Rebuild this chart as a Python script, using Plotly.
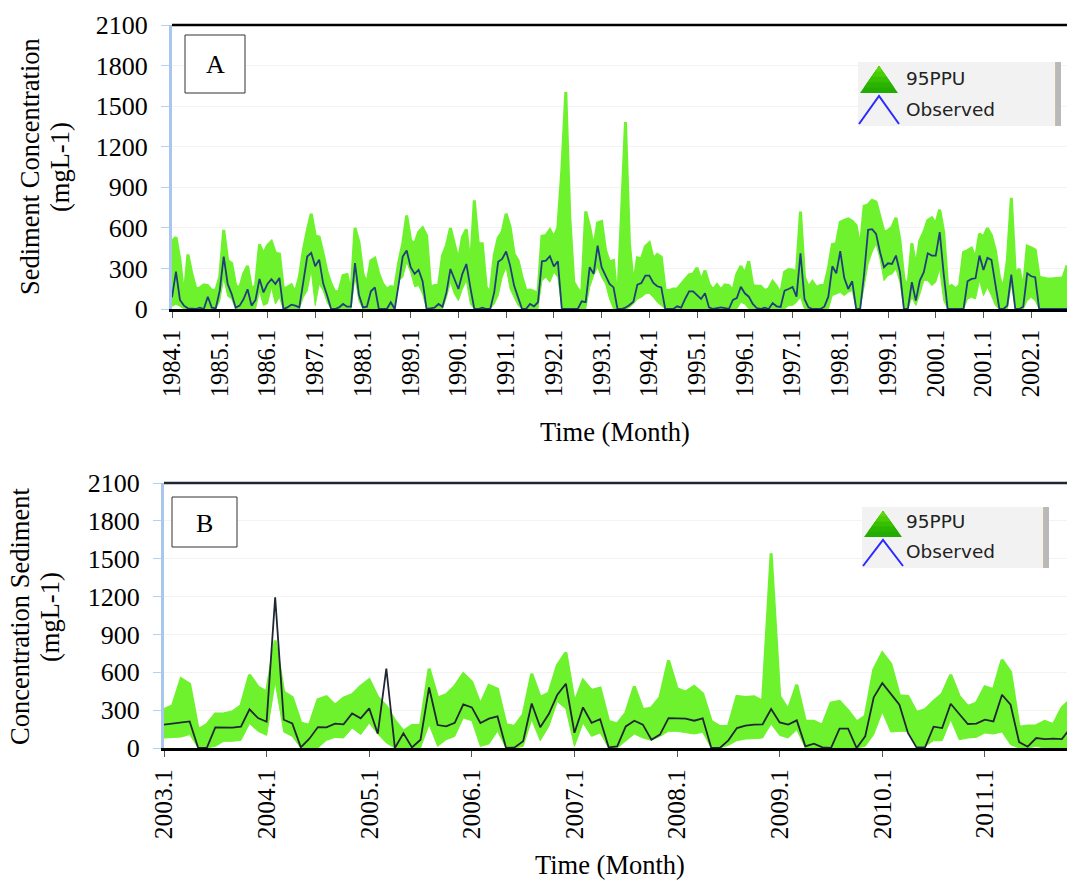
import plotly.graph_objects as go

W = 1067
H = 880

# panel A, monthly 1984.1 - 2002.10
months_a = [f"{1984 + i // 12}.{i % 12 + 1}" for i in range(226)]
years_a = [f"{y}.1" for y in range(1984, 2003)]
observed_a = [
    86, 277, 67, 25, 5, 0, 0, 10, 0, 91, 10, 5,
    136, 388, 185, 110, 10, 25, 74, 146, 25, 67, 222, 123,
    185, 220, 185, 230, 0, 12, 32, 25, 12, 198, 388, 415,
    316, 365, 190, 100, 0, 0, 12, 37, 17, 17, 340, 104,
    12, 17, 131, 160, 0, 0, 0, 50, 0, 185, 388, 432,
    309, 260, 289, 205, 0, 5, 10, 37, 17, 123, 296, 222,
    148, 260, 333, 160, 0, 0, 10, 0, 0, 123, 350, 370,
    425, 321, 173, 86, 0, 0, 37, 20, 50, 353, 358, 390,
    314, 353, 0, 0, 0, 0, 0, 57, 50, 309, 260, 469,
    309, 247, 185, 160, 0, 0, 10, 30, 54, 180, 192, 247,
    247, 192, 168, 160, 0, 0, 0, 20, 10, 74, 131, 131,
    106, 74, 116, 12, 0, 5, 12, 7, 0, 67, 81, 165,
    116, 91, 37, 7, 0, 10, 0, 44, 20, 15, 136, 148,
    163, 91, 412, 74, 12, 0, 0, 0, 17, 91, 316, 264,
    427, 230, 148, 205, 0, 0, 260, 585, 590, 556, 420, 309,
    338, 333, 395, 272, 0, 0, 198, 62, 210, 272, 412, 395,
    395, 568, 260, 0, 0, 0, 0, 0, 205, 222, 227, 395,
    289, 378, 363, 173, 0, 0, 25, 254, 0, 0, 17, 264,
    242, 235, 0, 0, 0, 0, 0, 0, 0, 0,
]
upper_a = [
    500, 530, 360, 80, 403, 259, 150, 155, 178, 173, 136, 140,
    235, 585, 358, 338, 173, 155, 260, 318, 148, 173, 477, 407,
    469, 499, 412, 407, 148, 160, 178, 123, 235, 432, 580, 704,
    543, 531, 407, 272, 185, 123, 136, 247, 254, 111, 600, 494,
    259, 185, 358, 375, 259, 185, 148, 165, 160, 346, 482, 692,
    506, 482, 568, 600, 543, 160, 173, 173, 395, 470, 598, 482,
    358, 531, 588, 300, 803, 482, 482, 160, 120, 395, 526, 568,
    704, 605, 407, 358, 235, 136, 141, 131, 111, 538, 543, 585,
    531, 600, 1025, 1605, 680, 198, 148, 111, 721, 605, 450, 637,
    647, 432, 346, 358, 30, 704, 1383, 482, 173, 378, 370, 462,
    489, 370, 403, 383, 136, 136, 148, 148, 185, 222, 252, 259,
    304, 210, 284, 185, 141, 180, 141, 178, 173, 136, 259, 316,
    259, 353, 173, 168, 168, 136, 148, 203, 165, 111, 272, 291,
    289, 272, 721, 235, 160, 203, 160, 173, 173, 296, 477, 482,
    642, 655, 667, 650, 617, 445, 761, 770, 803, 790, 679, 568,
    580, 605, 674, 506, 222, 160, 487, 309, 506, 568, 655, 674,
    630, 734, 568, 160, 173, 148, 178, 420, 432, 450, 370, 556,
    531, 598, 543, 432, 235, 148, 358, 822, 259, 296, 136, 464,
    452, 437, 235, 227, 222, 222, 222, 227, 232, 321,
]
lower_a = [
    20, 35, 20, 0, 0, 0, 0, 0, 0, 0, 0, 0,
    60, 230, 95, 75, 0, 0, 0, 0, 0, 0, 130, 25,
    40, 160, 37, 86, 0, 0, 0, 0, 0, 86, 135, 285,
    25, 185, 135, 50, 0, 0, 0, 0, 0, 0, 235, 60,
    0, 0, 0, 0, 0, 0, 0, 0, 0, 210, 235, 346,
    272, 165, 173, 111, 0, 0, 0, 0, 0, 86, 198, 111,
    62, 148, 210, 37, 0, 0, 0, 0, 0, 37, 99, 235,
    309, 148, 86, 25, 0, 0, 0, 0, 0, 210, 235, 198,
    272, 235, 0, 0, 0, 0, 0, 0, 0, 160, 247, 309,
    235, 185, 74, 0, 0, 0, 0, 12, 37, 74, 86, 111,
    116, 86, 49, 25, 0, 0, 0, 0, 0, 0, 0, 0,
    0, 0, 0, 0, 0, 0, 0, 0, 0, 0, 0, 49,
    37, 0, 0, 0, 0, 0, 0, 0, 0, 0, 0, 25,
    25, 49, 86, 0, 0, 0, 0, 0, 0, 0, 99, 111,
    123, 99, 123, 136, 0, 0, 160, 333, 420, 482, 370, 210,
    247, 259, 296, 198, 0, 0, 86, 25, 111, 210, 210, 173,
    198, 296, 62, 0, 0, 0, 0, 0, 74, 86, 74, 210,
    99, 160, 99, 25, 0, 0, 0, 185, 0, 0, 0, 62,
    86, 62, 0, 0, 0, 0, 0, 0, 0, 0,
]

# panel B, monthly 2003.1 - 2011.11
months_b = [f"{2003 + i // 12}.{i % 12 + 1}" for i in range(107)]
years_b = [f"{y}.1" for y in range(2003, 2012)]
observed_b = [
    185, 193, 198, 211, 0, 0, 164, 161, 161, 169, 306, 237,
    208, 1195, 224, 195, 5, 74, 166, 164, 193, 187, 274, 235,
    314, 113, 630, 0, 116, 5, 66, 480, 182, 171, 200, 346,
    322, 198, 232, 250, 0, 5, 53, 353, 164, 269, 422, 509,
    121, 322, 200, 229, 5, 13, 171, 216, 185, 66, 106, 237,
    237, 232, 216, 235, 0, 0, 61, 158, 177, 185, 187, 309,
    203, 185, 219, 13, 34, 5, 0, 153, 153, 0, 92, 401,
    514, 430, 343, 119, 5, 5, 169, 158, 351, 269, 190, 193,
    224, 211, 422, 343, 47, 10, 79, 71, 74, 71, 158,
]
upper_b = [
    303, 335, 549, 506, 145, 185, 269, 272, 285, 335, 580, 483,
    443, 852, 443, 401, 198, 179, 383, 406, 338, 396, 422, 488,
    541, 401, 330, 216, 132, 179, 179, 628, 396, 422, 488, 588,
    522, 343, 496, 467, 185, 171, 264, 588, 401, 435, 654, 757,
    356, 535, 456, 475, 211, 190, 277, 488, 303, 317, 401, 694,
    470, 443, 488, 430, 211, 171, 171, 409, 401, 406, 369, 1543,
    409, 303, 501, 211, 211, 179, 356, 369, 295, 206, 251, 620,
    752, 665, 414, 409, 282, 303, 369, 427, 580, 409, 330, 356,
    485, 462, 699, 601, 164, 174, 177, 211, 185, 317, 383,
]
lower_b = [
    79, 84, 87, 106, 0, 0, 13, 53, 53, 61, 193, 132,
    100, 522, 127, 92, 0, 0, 0, 61, 84, 79, 158, 106,
    198, 111, 40, 0, 0, 0, 0, 185, 13, 66, 92, 237,
    216, 13, 32, 132, 0, 0, 13, 224, 58, 171, 369, 309,
    13, 198, 92, 119, 0, 0, 53, 111, 79, 61, 92, 132,
    132, 124, 111, 124, 0, 0, 21, 58, 71, 74, 79, 190,
    100, 79, 145, 0, 0, 0, 0, 0, 0, 0, 13, 106,
    285, 127, 132, 132, 13, 13, 58, 58, 224, 66, 79, 84,
    119, 111, 127, 26, 0, 0, 13, 0, 0, 0, 0,
]

y_ticks = [0, 300, 600, 900, 1200, 1500, 1800, 2100]
GREEN = "#6ef22e"
SERIF = "Liberation Serif"
LEGEND_GREENS = ["#22ac00", "#2ab400", "#38c000", "#48cc04", "#5fd60a"]


def px(x):
    return x / W


def py(y):
    return 1 - y / H


fig = go.Figure()

# band first, then observed on top
for xname, yname, months, lower, upper, obs, line_col in [
    ("x", "y", months_a, lower_a, upper_a, observed_a, "#1f3f7c"),
    ("x2", "y2", months_b, lower_b, upper_b, observed_b, "#1f2733"),
]:
    fig.add_trace(go.Scatter(x=months, y=lower, xaxis=xname, yaxis=yname, mode="lines",
                             line=dict(color=GREEN, width=1), showlegend=False))
    fig.add_trace(go.Scatter(x=months, y=upper, xaxis=xname, yaxis=yname, mode="lines",
                             line=dict(color=GREEN, width=3), fill="tonexty",
                             fillcolor=GREEN, showlegend=False))
    fig.add_trace(go.Scatter(x=months, y=obs, xaxis=xname, yaxis=yname, mode="lines",
                             line=dict(color=line_col, width=1.8), showlegend=False))

x_common = dict(type="category", tickangle=-90, ticks="outside", ticklen=6, tickwidth=1,
                tickcolor="#555555", showgrid=False, showline=True, linecolor="black",
                linewidth=3, zeroline=False, automargin=False, ticklabelstandoff=2)
y_common = dict(range=[0, 2100], tickvals=y_ticks, ticks="outside", ticklen=8, tickwidth=1,
                tickcolor="#b8d0f0", showgrid=True, gridcolor="#f3f3f3", gridwidth=1,
                showline=True, linecolor="#a9c6ec", linewidth=3, zeroline=False, automargin=False,
                tickfont=dict(family=SERIF, size=26, color="black"), ticklabelstandoff=8)

fig.update_layout(
    width=W, height=H, autosize=False,
    margin=dict(l=0, r=0, t=0, b=0),
    paper_bgcolor="white", plot_bgcolor="white",
    showlegend=False,
    xaxis=dict(domain=[px(172), 1], anchor="y", range=[0, 225], tickvals=years_a,
               ticktext=years_a, tickfont=dict(family=SERIF, size=24.5, color="black"), **x_common),
    yaxis=dict(domain=[py(309), py(25)], anchor="x", **y_common),
    xaxis2=dict(domain=[px(164), 1], anchor="y2", range=[0, 105.6], tickvals=years_b,
                ticktext=years_b, tickfont=dict(family=SERIF, size=25.5, color="black"), **x_common),
    yaxis2=dict(domain=[py(748), py(483)], anchor="x2", **y_common),
)


def text(x, y, s, size=26.5, angle=0, family=SERIF, color="black", xanchor="center"):
    fig.add_annotation(xref="paper", yref="paper", x=px(x), y=py(y), text=s, showarrow=False,
                       xanchor=xanchor, yanchor="middle", textangle=angle,
                       font=dict(family=family, size=size, color=color))


def rect(x0, y0, x1, y1, fill, line=None):
    fig.add_shape(type="rect", xref="paper", yref="paper", x0=px(x0), y0=py(y0), x1=px(x1), y1=py(y1),
                  fillcolor=fill, line=dict(color=line or fill, width=1 if line else 0))


def path(points, fill=None, line=None):
    d = "M " + " L ".join(f"{px(a)} {py(b)}" for a, b in points)
    fig.add_shape(type="path", xref="paper", yref="paper", path=d + (" Z" if fill else ""),
                  fillcolor=fill, line=dict(color=line or fill, width=2 if line else 0))


def legend_box(left, right, top, bottom, tri_top, tri_bot, caret_top, text_x, y1, y2):
    rect(left, top, right, bottom, "#f2f2f2")
    rect(right - 6, top, right - 5, bottom, "#cdbb9f")
    rect(right - 5, top, right, bottom, "#b9b9b9")
    # nested triangles for a rough gradient, the original is a bitmap
    cx = left + 21
    half = 19
    n = len(LEGEND_GREENS)
    for i, col in enumerate(LEGEND_GREENS):
        t = 1 - i / n
        yb = tri_top + (tri_bot - tri_top) * t
        path([(cx, tri_top), (cx + half * t, yb), (cx - half * t, yb)], fill=col)
    path([(left + 1, bottom - 2), (cx, caret_top), (left + 41, bottom - 2)], line="#2b2bff")
    text(text_x, y1, "95PPU", size=18.5, family="DejaVu Sans", color="#222222", xanchor="left")
    text(text_x, y2, "Observed", size=18.5, family="DejaVu Sans", color="#222222", xanchor="left")


# top border lines
fig.add_shape(type="line", xref="paper", yref="paper", x0=px(172), x1=1, y0=py(25), y1=py(25),
              line=dict(color="black", width=2.5))
fig.add_shape(type="line", xref="paper", yref="paper", x0=px(164), x1=1, y0=py(483), y1=py(483),
              line=dict(color="#1f2733", width=2.5))

# panel letters
rect(185, 35, 245, 93, "white", "#333333")
text(215, 65, "A", size=26)
rect(172, 497, 237, 547, "white", "#333333")
text(204, 523, "B", size=26)

# the legends are pasted screenshots in the original
legend_box(858, 1061, 62, 126, 66, 93, 96, 904, 79, 109)
legend_box(862, 1049, 507, 568, 511, 537, 540, 904, 521, 551)

# axis titles
text(30, 167, "Sediment Concentration", angle=-90)
text(60, 167, "(mgL-1)", angle=-90)
text(20, 617, "Concentration Sediment", angle=-90)
text(50, 617, "(mgL-1)", angle=-90)
text(615, 432, "Time (Month)")
text(610, 865, "Time (Month)")

assert len(observed_a) == len(upper_a) == len(lower_a) == 226
assert len(observed_b) == len(upper_b) == len(lower_b) == 107

fig.write_html("out.html", config=dict(displayModeBar=False),
               post_script="document.body.style.margin='0';")
